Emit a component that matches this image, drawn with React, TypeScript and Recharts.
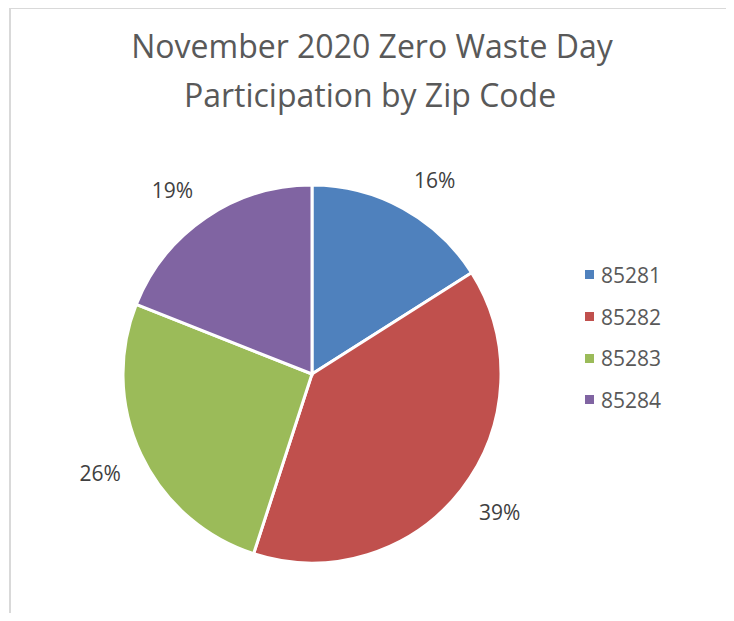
import { PieChart, Pie, Cell, Legend } from "recharts";

const zipCodes = ["85281", "85282", "85283", "85284"];
const shares = [16, 39, 26, 19];
const colors = ["#4F81BD", "#C0504D", "#9BBB59", "#8064A2"];
const titleLines = ["November 2020 Zero Waste Day", "Participation by Zip Code"];

const data = zipCodes.map((zip, i) => ({ zip, share: shares[i] }));

const RADIAN = Math.PI / 180;
const FONT = "'Open Sans', sans-serif";

// outside-end labels: box corner sits just beyond the rim
const renderLabel = (props: any) => {
  const { cx, cy, midAngle, percent } = props;
  const r = 211;
  const cos = Math.cos(-midAngle * RADIAN);
  const sin = Math.sin(-midAngle * RADIAN);
  const x = cx + r * cos + Math.sign(cos) * 21;
  const y = cy + r * sin + Math.sign(sin) * 9;
  return (
    <text
      x={x}
      y={y}
      textAnchor="middle"
      dominantBaseline="central"
      fill="#404040"
      fontSize={21}
      fontFamily={FONT}
    >
      {`${Math.round(percent * 100)}%`}
    </text>
  );
};

const renderLegend = (props: any) => {
  const { payload } = props;
  return (
    <div>
      {payload.map((entry: any, index: number) => (
        <div
          key={`legend-${index}`}
          style={{ height: 41.7, display: "flex", alignItems: "center" }}
        >
          <span
            style={{
              width: 9,
              height: 9,
              background: entry.color,
              display: "inline-block",
              marginRight: 7,
            }}
          />
          <span style={{ fontFamily: FONT, fontSize: 21, color: "#595959" }}>
            {entry.value}
          </span>
        </div>
      ))}
    </div>
  );
};

const App = () => {
  return (
    <div style={{ margin: -8, width: 734, height: 621, position: "relative", overflow: "hidden", background: "#fff" }}>
      <div
        style={{
          position: "absolute",
          left: 9,
          top: 7,
          width: 722,
          height: 640,
          border: "2px solid #d9d9d9",
          boxSizing: "border-box",
        }}
      />
      <svg width={734} height={130} style={{ position: "absolute", left: 0, top: 0 }}>
        <text x={372} y={58} textAnchor="middle" fill="#595959" fontSize={32} fontFamily={FONT}>
          {titleLines[0]}
        </text>
        <text x={370} y={107} textAnchor="middle" fill="#595959" fontSize={32} fontFamily={FONT}>
          {titleLines[1]}
        </text>
      </svg>
      <div style={{ position: "absolute", left: 0, top: 0 }}>
        <PieChart width={734} height={621}>
          <Pie
            data={data}
            dataKey="share"
            nameKey="zip"
            cx={307}
            cy={369}
            outerRadius={189}
            startAngle={90}
            endAngle={-270}
            stroke="#ffffff"
            strokeWidth={3}
            label={renderLabel}
            labelLine={false}
            isAnimationActive={false}
          >
            {data.map((entry, index) => (
              <Cell key={`cell-${entry.zip}`} fill={colors[index]} />
            ))}
          </Pie>
          <Legend
            content={renderLegend}
            wrapperStyle={{ position: "absolute", left: 585, top: 254, width: 120 }}
          />
        </PieChart>
      </div>
    </div>
  );
};

export default App;
